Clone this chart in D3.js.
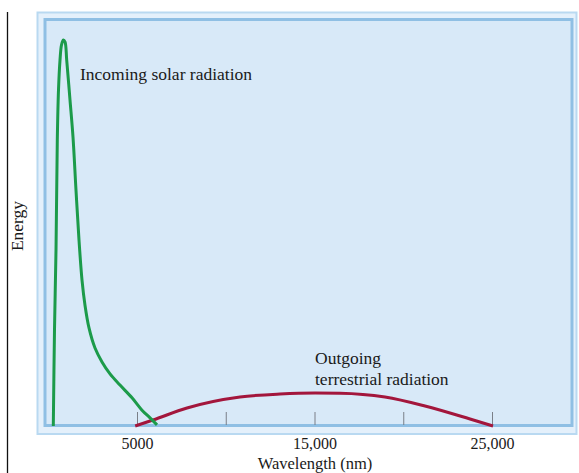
<!DOCTYPE html>
<html><head><meta charset="utf-8">
<script src="https://cdn.jsdelivr.net/npm/d3@7"></script>
<style>html,body{margin:0;padding:0;background:#fff;}svg{display:block;}</style>
</head><body>
<svg id="chart" width="579" height="473"></svg>
<script>
// Incoming solar radiation: wavelength (nm) vs energy (relative, peak = 100)
const solarWavelength = [285, 352, 437, 510, 577, 662, 746, 848, 944, 1040, 1225, 1394, 1563, 1732, 1902, 2070, 2296, 2634, 3029, 3480, 4043, 4719, 5282, 5733, 6127];
const solarEnergy     = [0, 24.9, 45.6, 74.1, 87.0, 94.8, 98.7, 100, 99.5, 94.8, 84.5, 74.9, 61.1, 48.2, 37.8, 31.3, 25.4, 20.2, 16.6, 13.5, 10.6, 7.3, 4.1, 2.1, 0.3];
// Outgoing terrestrial radiation
const earthWavelength = [4900, 5902, 7817, 10803, 13057, 15029, 16437, 18972, 21226, 23761, 25057];
const earthEnergy     = [0, 1.55, 4.66, 7.51, 8.29, 8.55, 8.5, 7.51, 5.18, 1.81, 0];
const tickValues = [5000, 10000, 15000, 20000, 25000];
const tickLabels = ["5000", "", "15,000", "", "25,000"];
const xTitle = "Wavelength (nm)";
const yTitle = "Energy";
const solarLabel = ["Incoming solar radiation"];
const earthLabel = ["Outgoing", "terrestrial radiation"];

const svg = d3.select("#chart");
const font = "'Liberation Serif','Times New Roman',serif";

const x = d3.scaleLinear().domain([0, 25000]).range([48.25, 492]);
const y = d3.scaleLinear().domain([0, 100]).range([426, 40]);

// left black rule
svg.append("line").attr("x1", 7.5).attr("x2", 7.5).attr("y1", 12).attr("y2", 473)
  .attr("stroke", "#111").attr("stroke-width", 1.3);

// frame
svg.append("rect").attr("x", 37.5).attr("y", 12.5).attr("width", 539).attr("height", 421.5)
  .attr("fill", "#e4f0fb").attr("stroke", "#b9d9f1").attr("stroke-width", 2);
svg.append("rect").attr("x", 45).attr("y", 19.5).attr("width", 527).attr("height", 406)
  .attr("fill", "#d8e9f8").attr("stroke", "#8fbfe4").attr("stroke-width", 3);

// axis ticks
const axis = d3.axisBottom(x).tickValues(tickValues).tickSize(-13).tickPadding(13)
  .tickFormat((d, i) => tickLabels[i]);
const gx = svg.append("g").attr("transform", "translate(0,425)").call(axis);
gx.select(".domain").remove();
gx.selectAll(".tick line").attr("stroke", "#7a7f88").attr("stroke-width", 1);
gx.selectAll(".tick text").attr("font-family", font).attr("font-size", 16).attr("fill", "#1a1a1a");

// curves
const solarLine = d3.line().x(d => x(d[0])).y(d => y(d[1])).curve(d3.curveCatmullRom.alpha(0.5));
const earthLine = d3.line().x(d => x(d[0])).y(d => y(d[1])).curve(d3.curveMonotoneX);
svg.append("path").datum(earthWavelength.map((w, i) => [w, earthEnergy[i]]))
  .attr("d", earthLine).attr("fill", "none").attr("stroke", "#a3163c").attr("stroke-width", 3);
svg.append("path").datum(solarWavelength.map((w, i) => [w, solarEnergy[i]]))
  .attr("d", solarLine).attr("fill", "none").attr("stroke", "#1c9b4a").attr("stroke-width", 3);

// labels
svg.append("text").attr("x", 80).attr("y", 80).attr("font-family", font).attr("font-size", 17.5)
  .attr("fill", "#1a1a1a").text(solarLabel[0]);
svg.append("text").attr("font-family", font).attr("font-size", 17.5).attr("fill", "#1a1a1a")
  .selectAll("tspan").data(earthLabel).join("tspan")
  .attr("x", 315).attr("y", (d, i) => 364 + i * 21).text(d => d);

svg.append("text").attr("x", 315).attr("y", 469).attr("text-anchor", "middle")
  .attr("font-family", font).attr("font-size", 16.5).attr("fill", "#1a1a1a").text(xTitle);
svg.append("text").attr("transform", "translate(23,226) rotate(-90)").attr("text-anchor", "middle")
  .attr("font-family", font).attr("font-size", 17.5).attr("fill", "#1a1a1a").text(yTitle);
</script>
</body></html>
